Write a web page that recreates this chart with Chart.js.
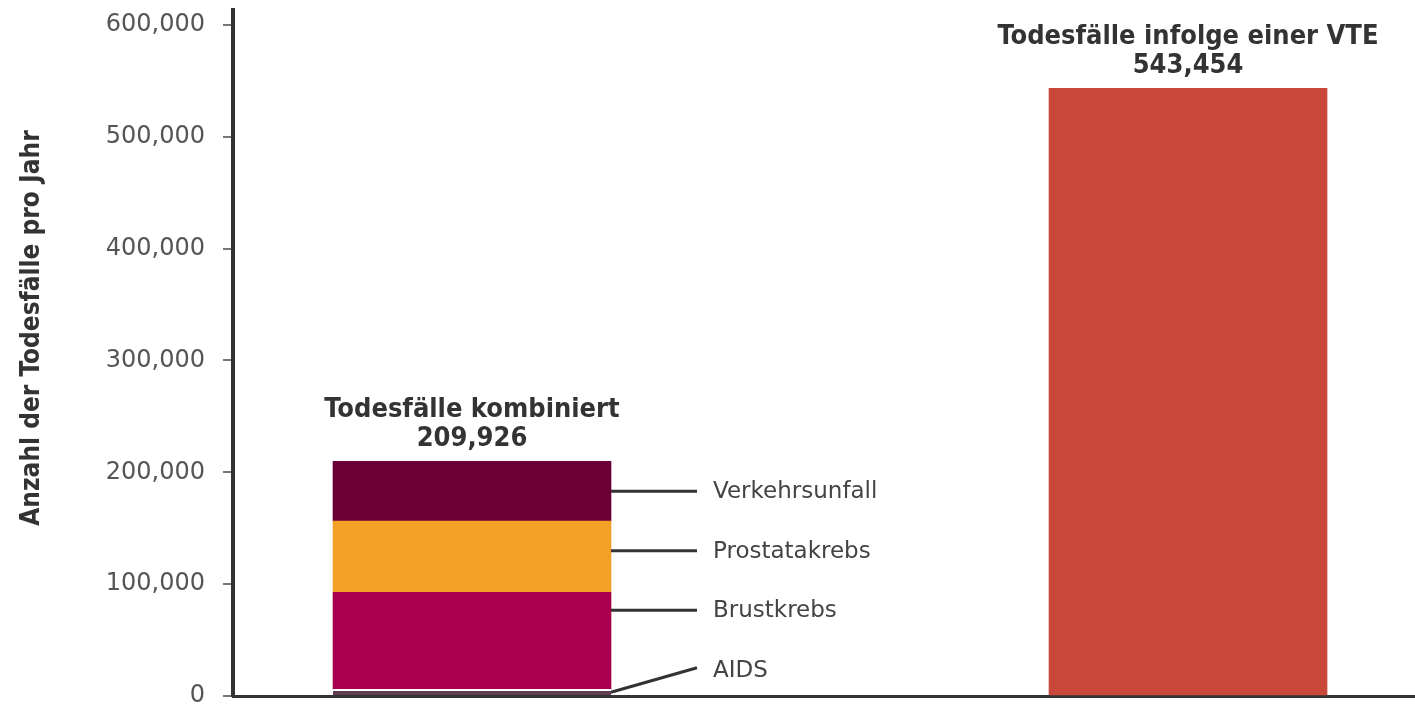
<!DOCTYPE html>
<html lang="de">
<head>
    <meta charset="UTF-8">
    <title>Todesfälle pro Jahr</title>
    <script src="https://cdn.jsdelivr.net/npm/chart.js@4.4.1/dist/chart.umd.min.js"></script>
    <style>
        html, body { margin: 0; padding: 0; background: #fff; }
        .chartBox { width: 1415px; height: 714px; }
    </style>
</head>
<body>
    <div class="chartBox">
        <canvas id="chart"></canvas>
    </div>
    <script>
        // data
        const groups = ['Todesfälle kombiniert', 'Todesfälle infolge einer VTE'];
        const causes = ['AIDS', 'Brustkrebs', 'Prostatakrebs', 'Verkehrsunfall'];
        const causeDeaths = [5860, 86831, 63636, 53599];
        const vteDeaths = [543454];
        const yTickValues = [0, 100000, 200000, 300000, 400000, 500000, 600000];
        const yTitle = 'Anzahl der Todesfälle pro Jahr';

        const causeColors = ['#5f3d4f', '#a8004f', '#f2a126', '#6c0036'];
        const vteColor = '#c9483b';
        const condensed = "'Liberation Sans Narrow', 'DejaVu Sans Condensed', sans-serif";
        const fmt = v => v.toLocaleString('en-US');

        const datasets = causes.map((c, i) => ({
            label: c,
            data: [{ x: 1, y: causeDeaths[i] }],
            backgroundColor: causeColors[i],
            borderColor: '#ffffff',
            borderWidth: i === 0 ? { top: 2 } : 0
        }));
        datasets.push({
            label: 'VTE',
            data: [{ x: 2, y: vteDeaths[0] }],
            backgroundColor: vteColor,
            borderWidth: 0
        });

        // titles above the bars, callout labels beside the stack, y axis title
        const annotate = {
            id: 'annotate',
            afterDatasetsDraw(chart) {
                const ctx = chart.ctx;
                const tops = {};
                chart.data.datasets.forEach((ds, i) => {
                    const el = chart.getDatasetMeta(i).data[0];
                    const k = Math.round(el.x);
                    if (!(k in tops) || el.y < tops[k].y) tops[k] = { x: el.x, y: el.y, group: ds.data[0].x - 1 };
                });
                const totals = [causeDeaths.reduce((a, b) => a + b, 0), vteDeaths[0]];
                ctx.save();
                ctx.fillStyle = '#333';
                ctx.textAlign = 'center';
                ctx.textBaseline = 'middle';
                ctx.font = 'bold 27px ' + condensed;
                Object.values(tops).forEach(t => {
                    ctx.fillText(groups[t.group], t.x, t.y - 51);
                    ctx.fillText(fmt(totals[t.group]), t.x, t.y - 22);
                });

                // y axis title
                ctx.save();
                ctx.translate(32, 328);
                ctx.rotate(-Math.PI / 2);
                ctx.font = 'bold 26px ' + condensed;
                ctx.fillText(yTitle, 0, 0);
                ctx.restore();

                // callouts, top segment first
                let labelY = null;
                ctx.strokeStyle = '#333';
                ctx.lineWidth = 3;
                ctx.textAlign = 'left';
                ctx.fillStyle = '#444';
                ctx.font = '23px "DejaVu Sans", sans-serif';
                for (let i = causes.length - 1; i >= 0; i--) {
                    const el = chart.getDatasetMeta(i).data[0];
                    const mid = (el.y + el.base) / 2;
                    labelY = labelY === null ? mid : labelY + 59.5;
                    const x0 = el.x + el.width / 2;
                    const x1 = x0 + 86;
                    const inside = labelY >= el.y && labelY <= el.base;
                    const endY = inside ? labelY : labelY - 2;
                    ctx.beginPath();
                    ctx.moveTo(x0, inside ? labelY : mid);
                    ctx.lineTo(x1, endY);
                    ctx.stroke();
                    ctx.fillText(causes[i], x1 + 16, labelY + 1);
                }
                ctx.restore();
            }
        };

        new Chart(document.getElementById('chart'), {
            type: 'bar',
            data: { datasets: datasets },
            options: {
                responsive: true,
                maintainAspectRatio: false,
                animation: false,
                barThickness: 278,
                layout: { padding: { top: 10, left: 0, right: 0, bottom: 18 } },
                plugins: {
                    legend: { display: false },
                    tooltip: { enabled: false }
                },
                scales: {
                    x: {
                        type: 'linear',
                        stacked: true,
                        offset: false,
                        min: 0.6662,
                        max: 2.317,
                        ticks: { display: false },
                        grid: { display: false },
                        border: { display: true, color: '#333', width: 3 },
                        afterFit: s => { s.height = 0; s.paddingLeft = 0; s.paddingRight = 0; }
                    },
                    y: {
                        stacked: true,
                        min: 0,
                        max: 613400,
                        afterBuildTicks: s => {
                            s.ticks = yTickValues.map(v => ({ value: v }));
                        },
                        ticks: {
                            padding: 18,
                            color: '#555',
                            font: { family: 'DejaVu Sans', size: 24 },
                            callback: v => fmt(v)
                        },
                        grid: { drawOnChartArea: false, tickLength: 10, color: '#777', lineWidth: 2 },
                        border: { color: '#333', width: 4 },
                        afterFit: s => { s.width = 233; s.paddingTop = 0; s.paddingBottom = 0; }
                    }
                }
            },
            plugins: [annotate]
        });
    </script>
</body>
</html>
